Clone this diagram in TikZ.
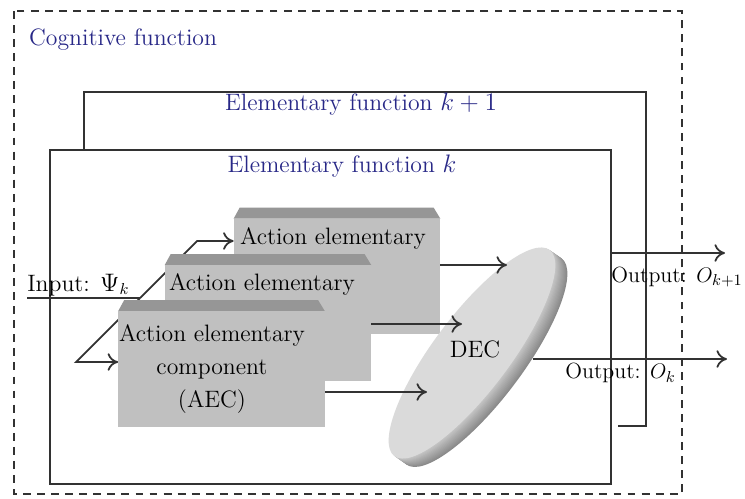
\documentclass[tikz,border=0pt]{standalone}
\usetikzlibrary{arrows.meta}

\definecolor{titleblue}{RGB}{40,40,135}
\definecolor{boxgray}{RGB}{192,192,192}
\definecolor{topgray}{RGB}{150,150,150}
\definecolor{discgray}{RGB}{218,218,218}
\definecolor{linegray}{RGB}{50,50,50}

\tikzset{
  every node/.style={font=\fontsize{13.5}{15}\selectfont},
  title/.style={text=titleblue},
  frame/.style={line width=1pt, draw=linegray},
  flow/.style={line width=1pt, draw=linegray, ->, >={To[length=6pt,width=10pt]}},
  aecbox/.style={minimum width=41.2mm, minimum height=23mm, inner sep=0pt},
  outlabel/.style={inner sep=0pt, font=\fontsize{12.5}{14}\selectfont},
}

\begin{document}
\begin{tikzpicture}[x=0.2mm,y=-0.2mm]
\useasboundingbox (0,0) rectangle (745,498);

% cognitive function
\draw[frame, dash pattern=on 4.5pt off 3.5pt] (14,11) rectangle (682,494);
\node[title, anchor=west] (cog) at (23,40) {Cognitive function};

% elementary function k+1
\draw[frame] (618,426) -- (646,426) -- (646,92) -- (84,92) -- (84,150);
\node[title] (efk1) at (361,104) {Elementary function $k+1$};

% elementary function k
\coordinate (kNW) at (50,150);
\coordinate (kSE) at (611,484);
\draw[frame, fill=white] (kNW) rectangle (kSE);
\node[title] (efk) at (342,166) {Elementary function $k$};

% input and fork
\coordinate (in) at (27,298);
\coordinate (fork) at (140,298);
\coordinate (up) at (197,241);
\coordinate (down) at (76,362);
\draw[line width=1pt, draw=linegray] (in) -- (fork);
\node[anchor=base west, inner sep=0pt] (input) at (27,291) {Input: $\Psi_k$};

% action elementary components
\foreach \name/\cx/\cy in {back/337/276.5, mid/268/323, front/221.5/369}
  \path node[aecbox] (\name) at (\cx,\cy) {};
\draw[flow] (fork) -- (up) -- (up -| back.west);
\draw[flow] (fork) -- (down) -- (down -| front.west);

\foreach \name in {back,mid,front}{
  \fill[topgray] (\name.north west) -- ++(6,-11) -- ++(194,0) -- (\name.north east) -- cycle;
  \fill[boxgray] (\name.north west) rectangle (\name.south east);
}

\node (backtxt) at (333,238) {Action elementary};
\node (midtxt) at (262,284) {Action elementary};
\node[align=center, font=\fontsize{13.5}{19}\selectfont] (fronttxt) at (212,369) {Action elementary\\component\\(AEC)};

% decision disc
\foreach \i [evaluate=\i as \s using 22+2*\i] in {12,...,1}
  \fill[black!\s, shift={(472+\i,353+0.7*\i)}, rotate=53] (0,0) ellipse [x radius=129, y radius=38];
\fill[discgray, shift={(472,353)}, rotate=53] (0,0) ellipse [x radius=129, y radius=38];
\node (dec) at (475,349) {DEC};

\coordinate (d1) at (507,265);
\coordinate (d2) at (462,324);
\coordinate (d3) at (427,392);
\draw[flow] (back.east |- d1) -- (d1);
\draw[flow] (mid.east |- d2) -- (d2);
\draw[flow] (front.east |- d3) -- (d3);

% outputs
\coordinate (ok1) at (725,253);
\coordinate (decR) at (533,359);
\coordinate (ok) at (727,359);
\draw[flow] (kSE |- ok1) -- (ok1);
\draw[flow] (decR) -- (ok);
\node[outlabel, anchor=east] (outk1) at (743,277) {Output: $O_{k+1}$};
\node[outlabel, anchor=west] (outk) at (565,373) {Output: $O_k$};

\end{tikzpicture}
\end{document}
